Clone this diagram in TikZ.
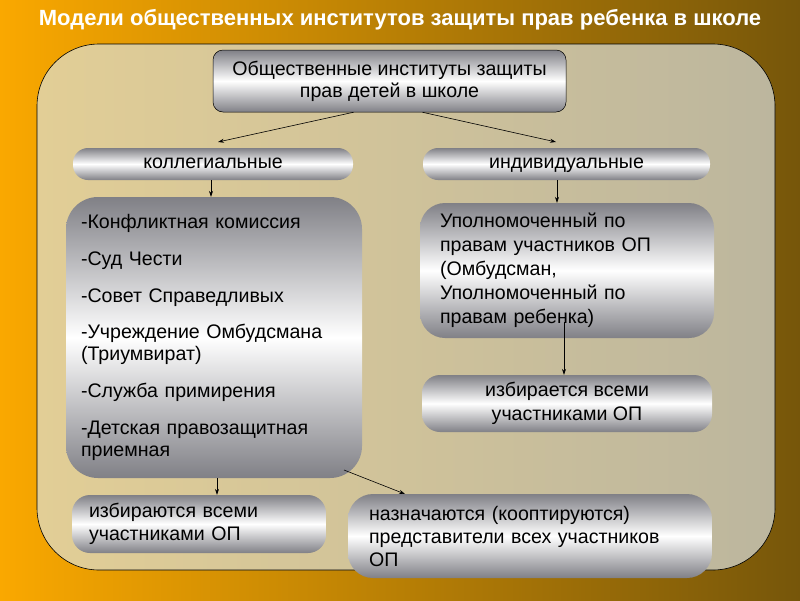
\documentclass[tikz,border=0pt]{standalone}
\usepackage{fontspec}
\setmainfont{Liberation Sans}
\usetikzlibrary{arrows.meta}
\definecolor{bgL}{RGB}{250,168,0}
\definecolor{bgR}{RGB}{118,86,10}
\definecolor{panL}{RGB}{226,206,150}
\definecolor{panR}{RGB}{188,182,158}
\definecolor{metal}{RGB}{128,128,134}
\tikzset{
  metalbox/.style={shape=rectangle, top color=metal, bottom color=metal, middle color=white,
    inner sep=0pt, font=\fontsize{19.6}{22}\selectfont, text=black},
  conn/.style={draw=black, line width=0.6pt, -{Stealth[length=6pt,width=4pt]}},
}
\begin{document}
\begin{tikzpicture}[x=1pt,y=-1pt]
\useasboundingbox (0,0) rectangle (800,600);
\shade[left color=bgL, right color=bgR] (0,0) rectangle (800,600);
\node[text=white, font=\fontsize{22}{24}\bfseries\selectfont] (title) at (400,20) {Модели общественных институтов защиты прав ребенка в школе};
\draw[black, line width=0.6pt, rounded corners=62, left color=panL, right color=panR] (37,44) rectangle (775,570);

\node[metalbox, draw=black, line width=0.5pt, rounded corners=10, minimum width=353, minimum height=62, align=center] (top) at (389.5,81) {Общественные институты защиты\\прав детей в школе};

\node[metalbox, rounded corners=15, minimum width=280, minimum height=32] (coll) at (213,164) {\strut коллегиальные};
\node[metalbox, rounded corners=15, minimum width=287, minimum height=32] (ind) at (566.5,164) {\strut индивидуальные};

\node[metalbox, rounded corners=32, minimum width=296, minimum height=281, text width=266, inner xsep=15, align=left] (list) at (214,337.5)
 {-Конфликтная комиссия\\[14.7pt]-Суд Чести\\[14.7pt]-Совет Справедливых\\[14.7pt]-Учреждение Омбудсмана\\(Триумвират)\\[14.7pt]-Служба примирения\\[14.7pt]-Детская правозащитная\\приемная};

\node[metalbox, rounded corners=25, minimum width=294, minimum height=135, text width=254, inner xsep=20, align=left, font=\fontsize{19.6}{24}\selectfont] (upol) at (567,270.5)
 {Уполномоченный по\\правам участников ОП\\(Омбудсман,\\Уполномоченный по\\правам ребенка)};

\node[metalbox, rounded corners=18, minimum width=290, minimum height=57, align=center, font=\fontsize{19.6}{24}\selectfont] (izb1) at (567,403.5) {избирается всеми\\участниками ОП};

\node[metalbox, rounded corners=18, minimum width=254, minimum height=58, text width=220, inner xsep=17, align=left, font=\fontsize{19.6}{23}\selectfont] (izb2) at (199,524) {избираются всеми\\участниками ОП};

\node[metalbox, rounded corners=25, minimum width=364, minimum height=84, text width=322, inner xsep=21, align=left, font=\fontsize{19.6}{23}\selectfont] (naz) at (530,536) {назначаются (кооптируются)\\представители всех участников\\ОП};

\draw[conn] ([xshift=-36]top.south) -- (218,142);
\draw[conn] ([xshift=33]top.south) -- (556,142);
\draw[conn] (coll.south -| 211,0) -- (list.north -| 211,0);
\draw[conn] (ind.south -| 557,0) -- (upol.north -| 557,0);
\draw[conn] (564,322) -- (izb1.north -| 564,0);
\draw[conn] (list.south -| 217,0) -- (izb2.north -| 217,0);
\draw[conn] (344,470) -- (405,494);
\end{tikzpicture}
\end{document}
